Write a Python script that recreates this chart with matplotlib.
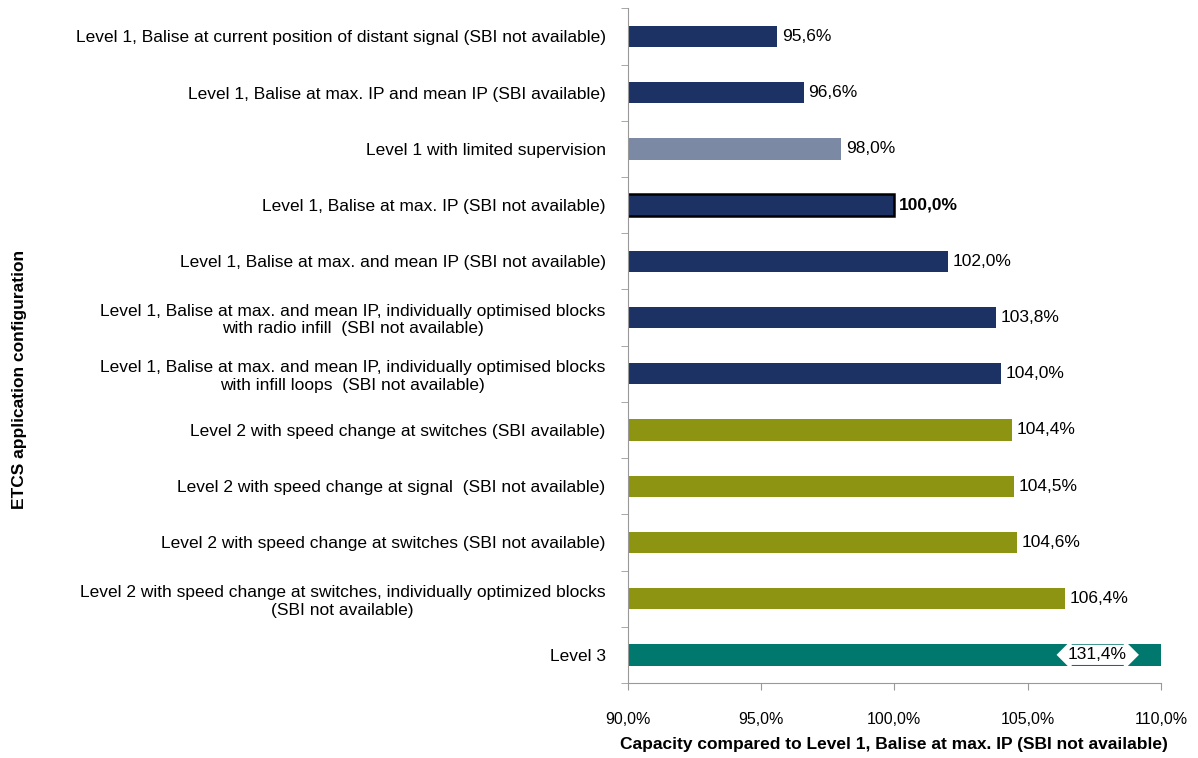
import numpy as np
import matplotlib.pyplot as plt
from matplotlib.ticker import FixedLocator

plt.rcParams['font.family'] = ['Liberation Sans', 'DejaVu Sans']

# configurations, top to bottom
labels = [
    "Level 1, Balise at current position of distant signal (SBI not available)",
    "Level 1, Balise at max. IP and mean IP (SBI available)",
    "Level 1 with limited supervision",
    "Level 1, Balise at max. IP (SBI not available)",
    "Level 1, Balise at max. and mean IP (SBI not available)",
    "Level 1, Balise at max. and mean IP, individually optimised blocks\nwith radio infill  (SBI not available)",
    "Level 1, Balise at max. and mean IP, individually optimised blocks\nwith infill loops  (SBI not available)",
    "Level 2 with speed change at switches (SBI available)",
    "Level 2 with speed change at signal  (SBI not available)",
    "Level 2 with speed change at switches (SBI not available)",
    "Level 2 with speed change at switches, individually optimized blocks\n(SBI not available)",
    "Level 3",
]
capacity = [95.6, 96.6, 98.0, 100.0, 102.0, 103.8, 104.0, 104.4, 104.5, 104.6, 106.4, 131.4]
colors = ['#1c3264', '#1c3264', '#7b89a4', '#1c3264', '#1c3264', '#1c3264', '#1c3264',
          '#8c9412', '#8c9412', '#8c9412', '#8c9412', '#00786e']

x_min, x_max = 90, 110
fs = 12.5

fig = plt.figure(figsize=(11.98, 7.58), dpi=100)
ax = fig.add_axes([0.524, 0.099, 0.445, 0.890])

y = np.arange(len(labels))
bars = ax.barh(y, capacity, left=0, height=0.38, color=colors, zorder=2)
# reference configuration gets a black outline
bars[3].set_edgecolor('black')
bars[3].set_linewidth(1.8)

ax.set_xlim(x_min, x_max)
ax.set_ylim(len(labels) - 0.5, -0.5)

for i, v in enumerate(capacity):
    txt = f"{v:.1f}%".replace('.', ',')
    if v > x_max:
        # off-scale value, shown inside the clipped bar
        ax.text(x_max - 2.4, i, txt, ha='center', va='center', fontsize=fs,
                bbox=dict(boxstyle='darrow,pad=0.15', fc='white', ec='none'), zorder=3)
    else:
        ax.text(v + 0.18, i, txt, ha='left', va='center', fontsize=fs,
                fontweight='bold' if i == 3 else 'normal', zorder=3)

ax.set_yticks(y)
ax.set_yticklabels(labels, fontsize=fs)
for lab in ax.get_yticklabels():
    lab.set_multialignment('center')
ax.tick_params(axis='y', which='major', length=0, pad=16)
ax.yaxis.set_minor_locator(FixedLocator(np.arange(-0.5, len(labels), 1.0)))
ax.tick_params(axis='y', which='minor', length=5, color='#999999')

xt = np.arange(x_min, x_max + 1, 5)
ax.set_xticks(xt)
ax.set_xticklabels([f"{t:.1f}%".replace('.', ',') for t in xt], fontsize=11.5)
ax.tick_params(axis='x', length=5, color='#999999', pad=16)

for s in ['top', 'right']:
    ax.spines[s].set_visible(False)
ax.spines['left'].set_color('#999999')
ax.spines['bottom'].set_color('#999999')

ax.set_xlabel("Capacity compared to Level 1, Balise at max. IP (SBI not available)",
              fontsize=12.5, fontweight='bold', labelpad=7)
fig.text(0.016, 0.5, "ETCS application configuration", rotation=90, ha='center',
         va='center', fontsize=12.5, fontweight='bold')

fig.savefig('out.png', dpi=100)
